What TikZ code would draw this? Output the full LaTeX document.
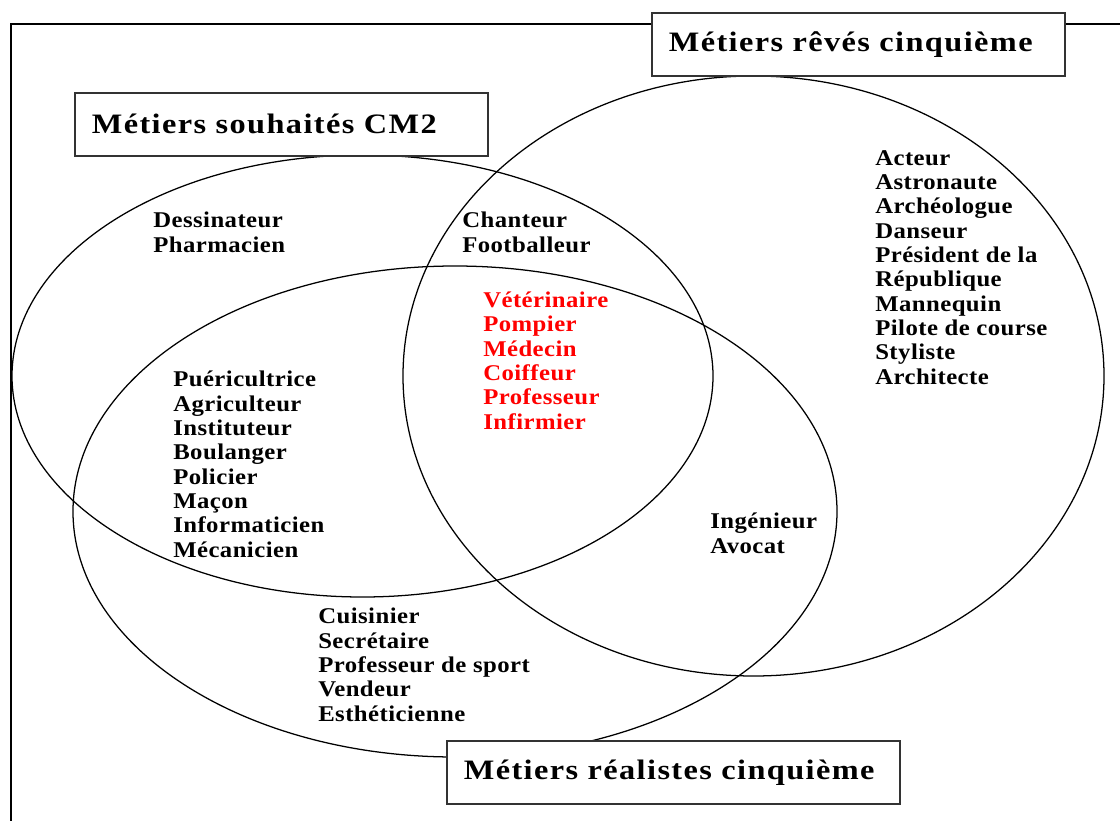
\documentclass[tikz,border=0pt]{standalone}
\usepackage{fontspec}
\setmainfont{Liberation Serif}
\newfontfamily\listfont{Liberation Serif}[FakeStretch=1.1, LetterSpace=2]
\newfontfamily\titlefont{Liberation Serif}[FakeStretch=1.15, LetterSpace=5]
\tikzset{
  venn/.style={line width=0.9pt},
  titlebox/.style={draw=black!80, line width=1.2pt, fill=white, anchor=north west,
    inner xsep=0.425cm, minimum height=1.575cm, align=left,
    font=\titlefont\bfseries\fontsize{20}{22}\selectfont},
  % anchored at the baseline of the last line
  lst/.style={anchor=base west, align=left, inner sep=0pt,
    font=\listfont\bfseries\fontsize{16}{17.3}\selectfont},
}
\begin{document}
\begin{tikzpicture}[x=0.025cm, y=-0.025cm]
    \useasboundingbox (0,0) rectangle (1120,821);
    % frame
    \draw[line width=1.5pt] (11,821) -- (11,24) -- (1120,24);

    % the three sets
    \draw[venn] (362.5,376) ellipse [x radius=350.5, y radius=221];
    \draw[venn] (753.5,376) ellipse [x radius=350.5, y radius=300];
    \draw[venn] (455,511.5) ellipse [x radius=382, y radius=245.5];

    % titles
    \node[titlebox, text width=9.475cm] (cm2) at (74,92) {Métiers souhaités CM2};
    \node[titlebox, text width=9.475cm] (reves) at (651,12) {Métiers rêvés cinquième};
    \node[titlebox, text width=10.475cm] (real) at (446,740) {Métiers réalistes cinquième};

    % lists
    \node[lst] (cm2only) at (153,252) {Dessinateur\\Pharmacien};
    \node[lst] (cm2reves) at (462,252) {Chanteur\\Footballeur};
    \node[lst, text=red] (common) at (483,429) {Vétérinaire\\Pompier\\Médecin\\Coiffeur\\Professeur\\Infirmier};
    \node[lst] (revesonly) at (875,384) {Acteur\\Astronaute\\Archéologue\\Danseur\\Président de la\\République\\Mannequin\\Pilote de course\\Styliste\\Architecte};
    \node[lst] (cm2real) at (173,557) {Puéricultrice\\Agriculteur\\Instituteur\\Boulanger\\Policier\\Maçon\\Informaticien\\Mécanicien};
    \node[lst] (revesreal) at (710,553) {Ingénieur\\Avocat};
    \node[lst] (realonly) at (318,721) {Cuisinier\\Secrétaire\\Professeur de sport\\Vendeur\\Esthéticienne};
\end{tikzpicture}
\end{document}
